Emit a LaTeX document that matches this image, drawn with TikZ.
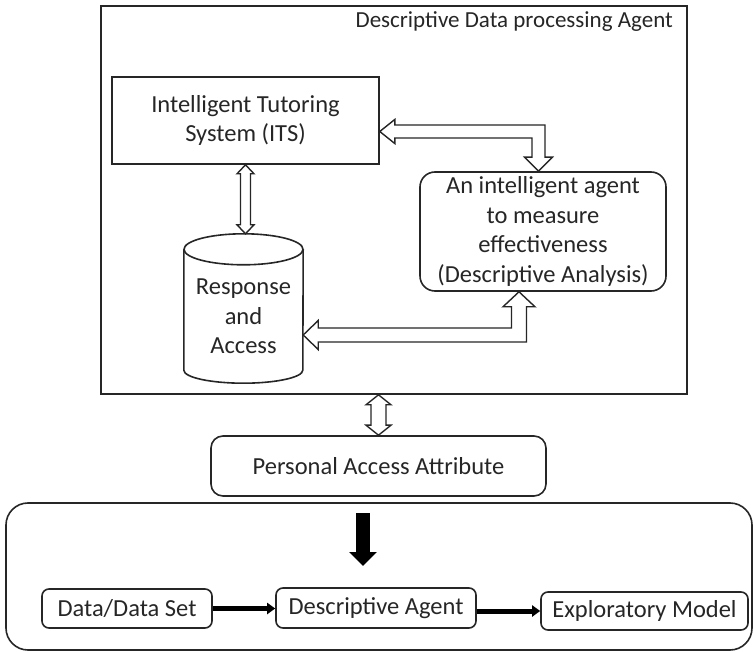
\documentclass[tikz,border=0pt]{standalone}
\usepackage{fontspec}
\setmainfont{Carlito}
\usetikzlibrary{calc,arrows.meta}
\newcommand\figfont{\fontsize{24.5}{29.5}\selectfont}
\newcommand\titlefont{\fontsize{23}{28}\selectfont}
\begin{document}
\begin{tikzpicture}[x=1pt,y=-1pt,
  box/.style={draw=black!85, line width=1.6pt, inner sep=0pt, align=center, font=\figfont, text=black!85},
  plain/.style={inner sep=0pt, align=center, font=\figfont, text=black!85},
  harrow/.style={draw=black!85, line width=1.4pt, fill=white, line join=miter},
  line/.style={draw=black!85, line width=1.6pt},
  thick arrow/.style={line width=4.5pt, black, -{Triangle[width=11pt,length=8pt]}}
]
\useasboundingbox (0,0) rectangle (753,652);

% top container
\node[box, minimum width=586, minimum height=388] (top) at (394,200) {};
\node[plain, anchor=east, font=\titlefont] (title) at (673,22) {Descriptive Data processing Agent};

\node[box, minimum width=267, minimum height=87] (its) at (245.5,120.5) {Intelligent Tutoring\\System (ITS)};
\node[box, rounded corners=15pt, minimum width=246, minimum height=119] (agent) at (543,231.5)
  {An intelligent agent\\to measure\\effectiveness\\(Descriptive Analysis)};

% cylinder
\node[inner sep=0pt, minimum width=119, minimum height=149] (cyl) at (243.5,308.5) {};
\draw[line] ($(cyl.north west)+(0,15.5)$) -- ($(cyl.south west)+(0,-13)$)
   arc[start angle=180, end angle=360, x radius=59.5pt, y radius=13pt]
   -- ($(cyl.north east)+(0,15.5)$);
\draw[line] ($(cyl.north)+(0,15.5)$) ellipse[x radius=59.5pt, y radius=15.5pt];
\node[plain] (cyltext) at ($(cyl.center)+(0,8)$) {Response\\and\\Access};

% ITS <-> cylinder
\coordinate (a1) at (its.south);
\coordinate (b1) at (its.south |- cyl.north);
\draw[harrow] (a1) -- ($(a1)+(8.5,9)$) -- ($(a1)+(5,9)$) -- ($(b1)+(5,-9)$) -- ($(b1)+(8.5,-9)$)
  -- (b1) -- ($(b1)+(-8.5,-9)$) -- ($(b1)+(-5,-9)$) -- ($(a1)+(-5,9)$) -- ($(a1)+(-8.5,9)$) -- cycle;

% ITS <-> agent (bent)
\coordinate (t1) at ($(its.east)+(0,11)$);
\coordinate (t2) at ($(agent.north)+(-4.5,0)$);
\coordinate (c1) at (t1 -| t2);
\draw[harrow] (t1) -- ($(t1)+(15,-12)$) -- ++(0,5.5) -- ($(c1)+(6.5,-6.5)$) -- ($(t2)+(6.5,-14)$)
  -- ++(7.5,0) -- (t2) -- ($(t2)+(-14,-14)$) -- ++(7.5,0) -- ($(c1)+(-6.5,6.5)$)
  -- ($(t1)+(15,6.5)$) -- ++(0,5.5) -- cycle;

% agent <-> cylinder (bent)
\coordinate (t3) at ($(agent.south)+(-24,0)$);
\coordinate (t4) at ($(cyl.east)+(0,26.5)$);
\coordinate (c2) at (t3 |- t4);
\draw[harrow] (t4) -- ($(t4)+(15,-14.5)$) -- ++(0,7.5) -- ($(c2)+(-7.5,-7)$) -- ($(t3)+(-7.5,15)$)
  -- ++(-8.5,0) -- (t3) -- ($(t3)+(16,15)$) -- ++(-8.5,0) -- ($(c2)+(7.5,7)$)
  -- ($(t4)+(15,7)$) -- ++(0,7.5) -- cycle;

% personal access attribute
\node[box, rounded corners=12pt, minimum width=335, minimum height=60] (pers) at (378.5,466) {Personal Access Attribute};
\coordinate (a2) at (top.south -| pers.north);
\coordinate (b2) at (pers.north);
\draw[harrow] (a2) -- ($(a2)+(12.5,10)$) -- ($(a2)+(7.5,10)$) -- ($(b2)+(7.5,-10)$) -- ($(b2)+(12.5,-10)$)
  -- (b2) -- ($(b2)+(-12.5,-10)$) -- ($(b2)+(-7.5,-10)$) -- ($(a2)+(-7.5,10)$) -- ($(a2)+(-12.5,10)$) -- cycle;

% bottom container
\node[box, rounded corners=22pt, minimum width=746, minimum height=147] (bottom) at (379,576.5) {};
\coordinate (d1) at (363,513);
\coordinate (d2) at (363,566);
\draw[line width=14pt, black, -{Triangle[width=27pt,length=14pt]}] (d1) -- (d2);

\node[box, rounded corners=7pt, minimum width=170, minimum height=39] (data) at (127,608.5) {Data/Data Set};
\node[box, rounded corners=7pt, minimum width=200, minimum height=40] (desc) at (376,608) {Descriptive Agent};
\node[box, rounded corners=7pt, minimum width=207, minimum height=38] (expl) at (644.5,611) {Exploratory Model};

\draw[thick arrow] (data.east) -- (data.east -| desc.west);
\draw[thick arrow, line width=5pt] (desc.east |- expl.west) -- (expl.west);
\end{tikzpicture}
\end{document}
